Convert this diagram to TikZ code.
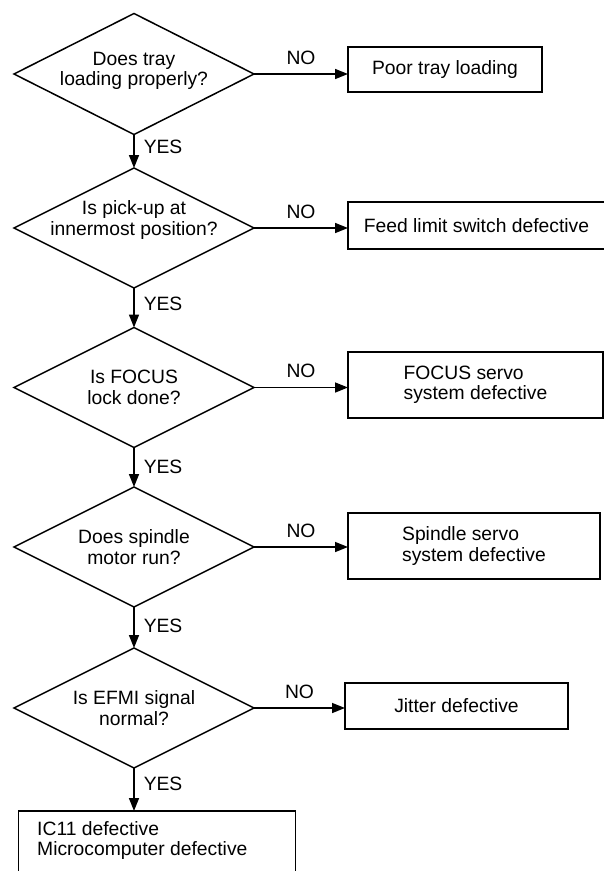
\documentclass[tikz,border=0pt]{standalone}
\usepackage{fontspec}
\setmainfont{Liberation Sans}
\usetikzlibrary{shapes.geometric,arrows.meta}
% lift a line of text without changing its reported size
\newcommand{\lift}[2]{\raisebox{#1}[\height][\depth]{#2}}
\begin{document}
\begin{tikzpicture}[x=1pt,y=-1pt,
  every node/.style={font=\fontsize{19.3}{20.5}\selectfont},
  question/.style={diamond, aspect=2, draw, line width=1.5pt, minimum width=240pt,
    minimum height=120pt, inner sep=-4pt, outer sep=0pt, align=center},
  result/.style={rectangle, draw, line width=1.5pt, inner sep=0pt,
    outer sep=0pt, align=left},
  flow/.style={line width=1.5pt, -{Triangle[length=13pt,width=10pt]}},
  yeslab/.style={right=9pt, inner sep=0pt, pos=#1},
  nolab/.style={above=9pt, inner sep=0pt, midway},
]
\clip (0,0) rectangle (604,871);

% decisions
\node[question, minimum height=121pt] (d1) at (134,74)
  {\lift{3pt}{Does tray}\\\lift{3pt}{loading properly?}};
\node[question] (d2) at (134,228)
  {\lift{8pt}{Is pick-up at}\\\lift{8pt}{innermost position?}};
\node[question] (d3) at (134,387.5) {Is FOCUS\\lock done?};
\node[question] (d4) at (134,547) {Does spindle\\motor run?};
\node[question] (d5) at (134,708) {Is EFMI signal\\normal?};

% diagnoses
\node[result, minimum width=194pt, minimum height=45pt] (b1) at (445,69.5) {Poor tray loading};
\node[result, minimum width=257pt, minimum height=47pt] (b2) at (476.5,225.5) {Feed limit switch defective};
\node[result, minimum width=255pt, minimum height=66pt] (b3) at (475.5,385) {FOCUS servo\\system defective};
\node[result, minimum width=252pt, minimum height=66pt] (b4) at (474,546) {Spindle servo\\system defective};
\node[result, minimum width=223pt, minimum height=46pt] (b5) at (456.5,706) {Jitter defective};
\node[result, anchor=north west, minimum width=277pt, minimum height=90pt] (b6) at (18.5,811) {};
\node[inner sep=0pt, anchor=north west, align=left] (t6) at (37,821) {IC11 defective\\Microcomputer defective};

% YES branches
\draw[flow] (d1.south) -- node[yeslab=0.38] (y1) {YES} (d2.north);
\draw[flow] (d2.south) -- node[yeslab=0.4] (y2) {YES} (d3.north);
\draw[flow] (d3.south) -- node[yeslab=0.5] (y3) {YES} (d4.north);
\draw[flow] (d4.south) -- node[yeslab=0.47] (y4) {YES} (d5.north);
\draw[flow] (d5.south) -- node[yeslab=0.36] (y5) {YES} (d5.south |- b6.north);

% NO branches
\draw[flow] (d1.east) -- node[nolab] (n1) {NO} (d1.east -| b1.west);
\draw[flow] (d2.east) -- node[nolab] (n2) {NO} (d2.east -| b2.west);
\draw[flow] (d3.east) -- node[nolab] (n3) {NO} (d3.east -| b3.west);
\draw[flow] (d4.east) -- node[nolab] (n4) {NO} (d4.east -| b4.west);
\draw[flow] (d5.east) -- node[nolab] (n5) {NO} (d5.east -| b5.west);
\end{tikzpicture}
\end{document}
